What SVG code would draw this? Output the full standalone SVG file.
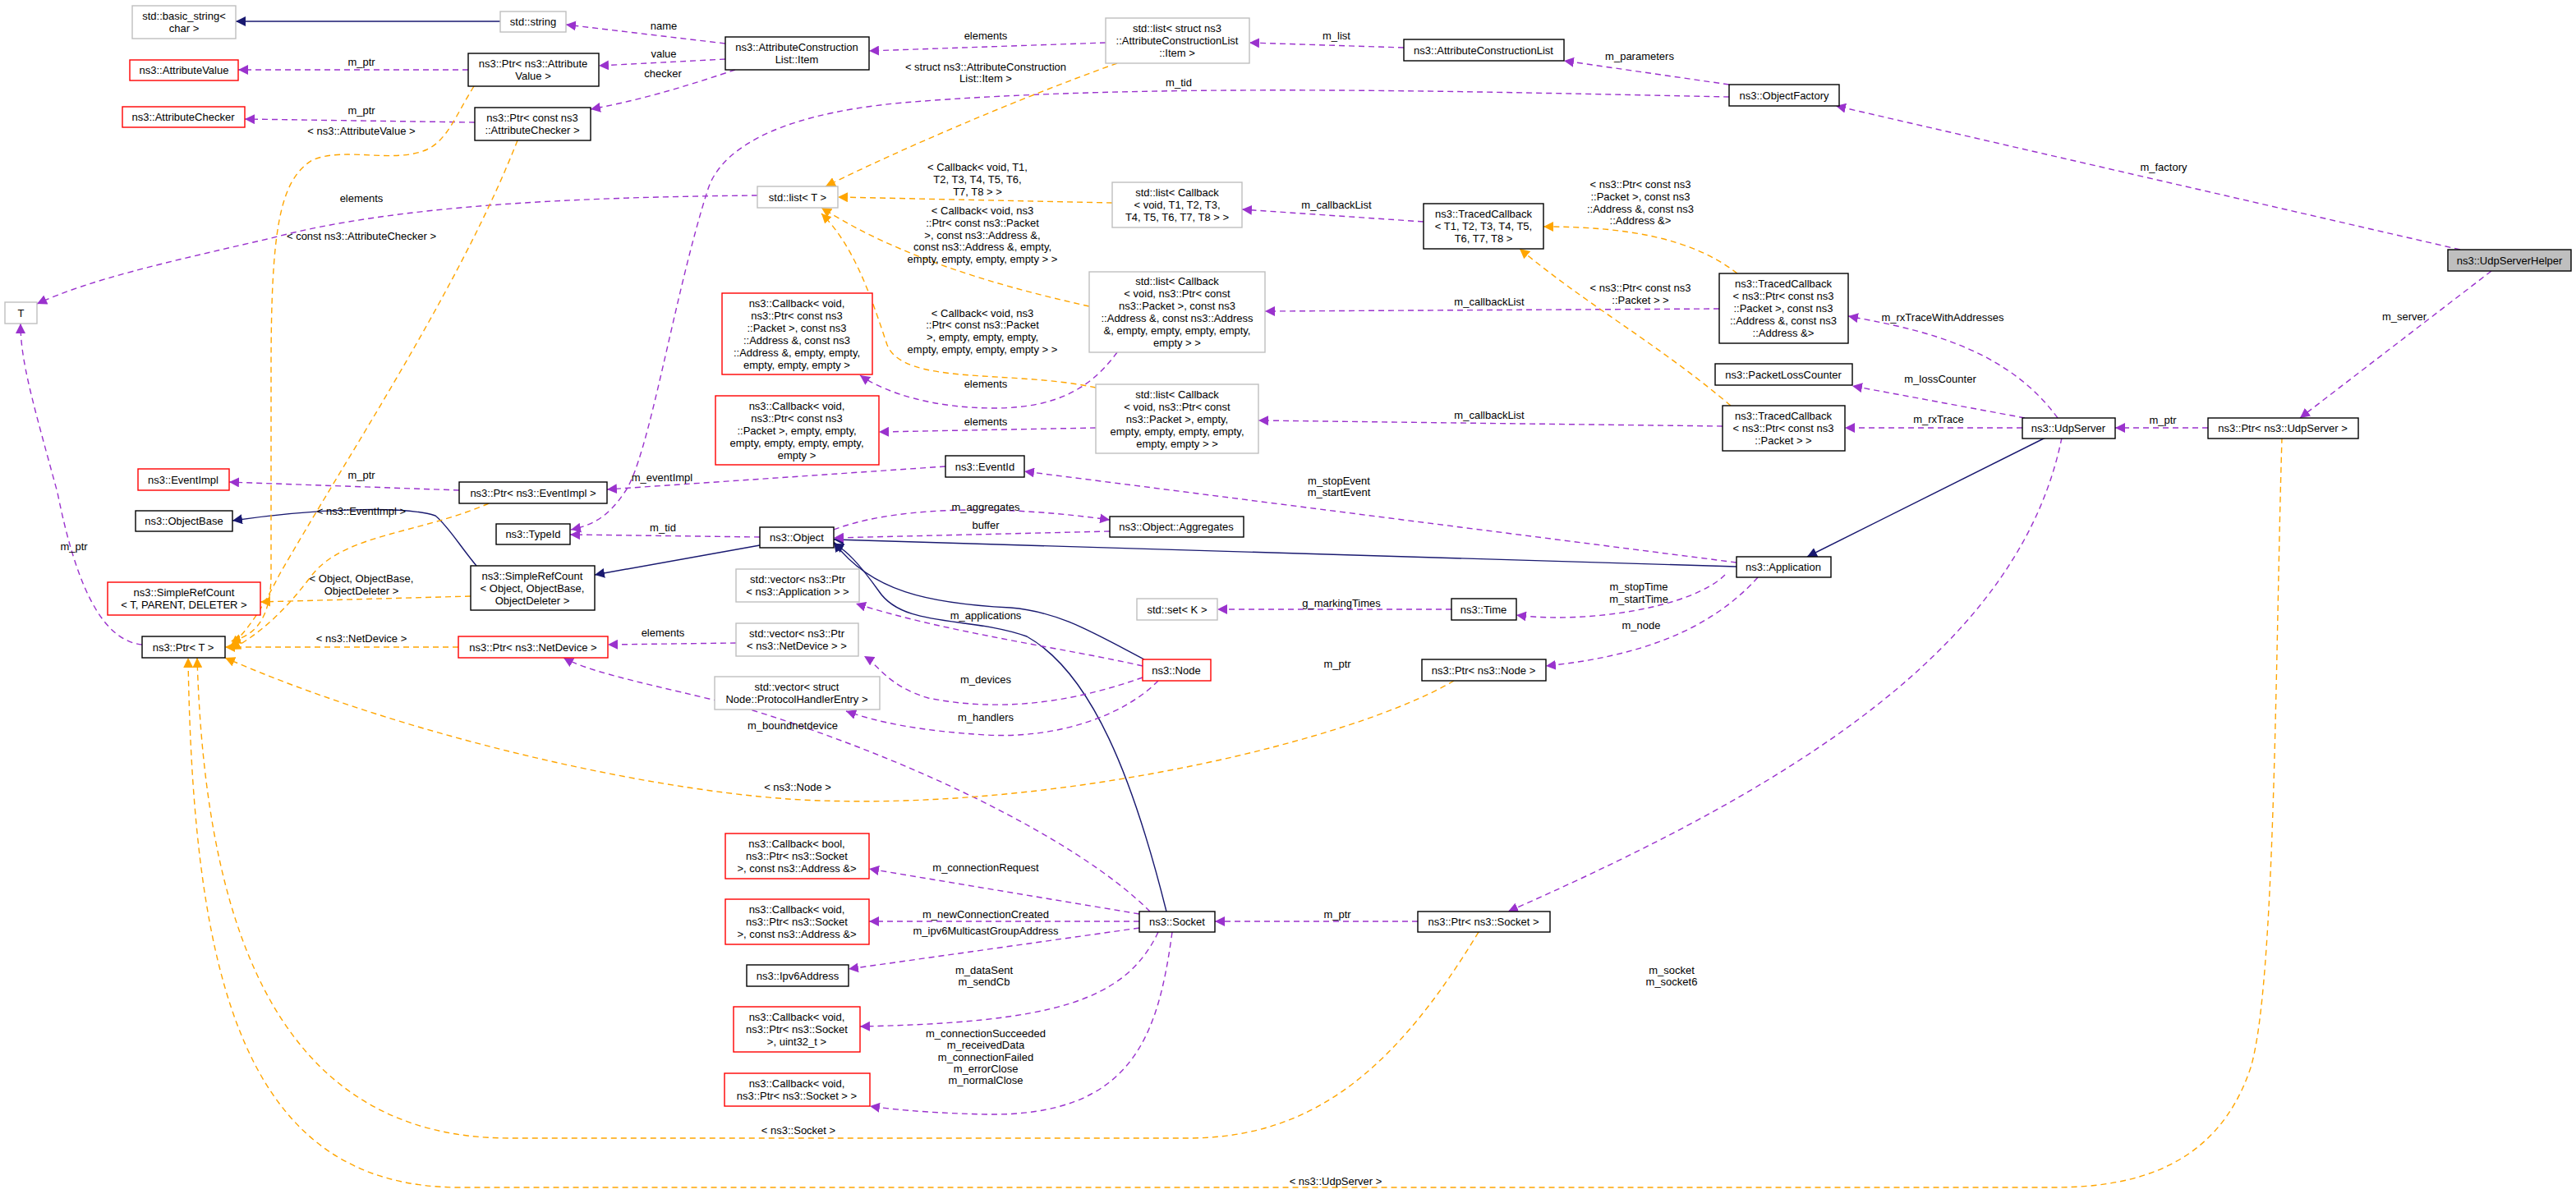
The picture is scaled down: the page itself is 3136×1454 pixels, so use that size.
<svg xmlns="http://www.w3.org/2000/svg" width="3136" height="1454" viewBox="0 0 3136 1454">
<style>
text{font-family:"Liberation Sans",Arial,sans-serif;font-size:13px;fill:#000;text-anchor:middle}
.b{fill:#fff;stroke:#000;stroke-width:1.4}
.g{fill:#fff;stroke:#bfbfbf;stroke-width:1.4}
.r{fill:#fff;stroke:#ff0000;stroke-width:1.4}
.h{fill:#bfbfbf;stroke:#000;stroke-width:1.4}
.p{fill:none;stroke:#9a32cd;stroke-width:1.4;stroke-dasharray:7,5;marker-end:url(#mp)}
.o{fill:none;stroke:#ffa500;stroke-width:1.4;stroke-dasharray:7,5;marker-end:url(#mo)}
.n{fill:none;stroke:#191970;stroke-width:1.4;marker-end:url(#mn)}
</style>
<defs>
<marker id="mp" viewBox="0 0 10 10" refX="10" refY="5" markerWidth="12" markerHeight="12" markerUnits="userSpaceOnUse" orient="auto"><path d="M0,0L10,5L0,10z" fill="#9a32cd"/></marker>
<marker id="mo" viewBox="0 0 10 10" refX="10" refY="5" markerWidth="12" markerHeight="12" markerUnits="userSpaceOnUse" orient="auto"><path d="M0,0L10,5L0,10z" fill="#ffa500"/></marker>
<marker id="mn" viewBox="0 0 10 10" refX="10" refY="5" markerWidth="12" markerHeight="12" markerUnits="userSpaceOnUse" orient="auto"><path d="M0,0L10,5L0,10z" fill="#191970"/></marker>
</defs>
<rect width="3136" height="1454" fill="#fff"/>
<g id="edges">
<path class="n" d="M609,26L287,26"/>
<path class="n" d="M580,689C560,665 545,640 530,628C490,615 380,620 283,634"/>
<path class="n" d="M925,664L724,700"/>
<path class="n" d="M2114,690L1015,657"/>
<path class="n" d="M2490,533L2200,678"/>
<path class="n" d="M1393,803C1330,770 1290,745 1230,740C1130,735 1060,720 1015,660"/>
<path class="n" d="M1420,1110C1380,950 1330,820 1250,775C1180,750 1100,765 1070,720C1045,685 1030,670 1015,662"/>
<path class="p" d="M883,53L689,30"/>
<path class="p" d="M883,72L729,80"/>
<path class="p" d="M895,85C850,100 790,120 719,133"/>
<path class="p" d="M570,85L290,85"/>
<path class="p" d="M578,149L298,145"/>
<path class="p" d="M1346,52L1058,62"/>
<path class="p" d="M1709,58L1521,52"/>
<path class="p" d="M2105,103L1904,74"/>
<path class="p" d="M2105,118C1800,112 1400,100 1100,125C930,140 875,190 862,230C820,360 790,560 760,600C740,630 720,640 695,645"/>
<path class="p" d="M922,238C700,240 480,250 330,290C200,320 110,340 45,370"/>
<path class="p" d="M173,785C120,780 90,700 70,600C40,490 25,440 25,394"/>
<path class="p" d="M1733,270L1512,255"/>
<path class="p" d="M2093,376L1540,379"/>
<path class="p" d="M2097,519L1532,512"/>
<path class="p" d="M1360,429C1330,470 1290,497 1210,497C1140,497 1080,480 1047,457"/>
<path class="p" d="M1334,521L1070,526"/>
<path class="p" d="M2505,509C2440,420 2330,400 2250,385"/>
<path class="p" d="M2465,509L2255,470"/>
<path class="p" d="M2462,521L2246,521"/>
<path class="p" d="M2688,521L2575,521"/>
<path class="p" d="M3033,330L2800,509"/>
<path class="p" d="M2995,304L2235,129"/>
<path class="p" d="M559,597L279,587"/>
<path class="p" d="M1151,568L739,596"/>
<path class="p" d="M925,654L694,651"/>
<path class="p" d="M2114,685L1247,574"/>
<path class="p" d="M1015,645C1080,620 1200,612 1351,633"/>
<path class="p" d="M1351,647L1015,655"/>
<path class="p" d="M1767,742L1482,742"/>
<path class="p" d="M2100,700C2060,740 1930,760 1846,749"/>
<path class="p" d="M2140,703C2080,770 1990,800 1882,811"/>
<path class="p" d="M1391,811C1300,790 1150,770 1042,735"/>
<path class="p" d="M1391,825C1320,850 1230,870 1130,850C1080,835 1070,810 1052,799"/>
<path class="p" d="M1410,829C1370,870 1290,900 1200,895C1120,890 1070,880 1030,866"/>
<path class="p" d="M896,783L740,785"/>
<path class="p" d="M1400,1110C1310,1020 1100,920 900,860C800,835 720,820 686,801"/>
<path class="p" d="M1387,1113L1058,1058"/>
<path class="p" d="M1387,1122L1058,1122"/>
<path class="p" d="M1387,1130L1033,1180"/>
<path class="p" d="M1410,1135C1370,1220 1280,1245 1047,1250"/>
<path class="p" d="M1427,1135C1410,1260 1380,1360 1200,1357C1120,1355 1080,1350 1059,1347"/>
<path class="p" d="M1726,1122L1479,1122"/>
<path class="p" d="M2510,533C2460,780 2200,950 1836,1110"/>
<path class="o" d="M1360,77C1240,120 1100,180 1005,227"/>
<path class="o" d="M1354,247L1020,240"/>
<path class="o" d="M1326,373C1200,345 1090,310 1000,253"/>
<path class="o" d="M1334,472C1230,450 1100,470 1080,420C1060,360 1040,300 1000,260"/>
<path class="o" d="M2115,333C2060,290 1980,276 1879,276"/>
<path class="o" d="M2107,494C2020,420 1930,370 1850,303"/>
<path class="o" d="M577,105C555,140 545,170 520,182C480,200 420,178 380,195C340,220 330,280 330,450L330,700C330,760 305,775 281,781"/>
<path class="o" d="M630,171C560,350 420,560 340,700C320,740 300,770 281,786"/>
<path class="o" d="M595,613C510,650 420,650 380,700C350,740 320,770 281,791"/>
<path class="o" d="M573,726L317,733"/>
<path class="o" d="M558,788L274,788"/>
<path class="o" d="M1770,829C1650,900 1300,985 1000,975C820,970 500,900 274,801"/>
<path class="o" d="M1800,1135C1700,1300 1600,1386 1446,1386L620,1386C350,1386 250,1150 240,801"/>
<path class="o" d="M2778,533C2770,800 2770,1200 2740,1300C2700,1420 2600,1446 2500,1446L560,1446C300,1446 235,1200 229,801"/>
</g>
<g id="edge-labels">
<text x="808" y="36">name</text>
<text x="808" y="70">value</text>
<text x="807" y="94">checker</text>
<text x="440" y="80">m_ptr</text>
<text x="440" y="139">m_ptr</text>
<text x="1200" y="48">elements</text>
<text x="1627" y="48">m_list</text>
<text x="1996" y="73">m_parameters</text>
<text x="1435" y="105">m_tid</text>
<text x="440" y="246">elements</text>
<text x="90" y="670">m_ptr</text>
<text x="1627" y="254">m_callbackList</text>
<text x="1813" y="372">m_callbackList</text>
<text x="1813" y="510">m_callbackList</text>
<text x="1200" y="472">elements</text>
<text x="1200" y="518">elements</text>
<text x="2365" y="391">m_rxTraceWithAddresses</text>
<text x="2362" y="466">m_lossCounter</text>
<text x="2360" y="515">m_rxTrace</text>
<text x="2633" y="516">m_ptr</text>
<text x="2927" y="390">m_server</text>
<text x="2634" y="208">m_factory</text>
<text x="440" y="583">m_ptr</text>
<text x="806" y="586">m_eventImpl</text>
<text x="807" y="647">m_tid</text>
<text x="1630" y="590">m_stopEvent</text>
<text x="1630" y="604">m_startEvent</text>
<text x="1200" y="622">m_aggregates</text>
<text x="1200" y="644">buffer</text>
<text x="1633" y="739">g_markingTimes</text>
<text x="1995" y="719">m_stopTime</text>
<text x="1995" y="734">m_startTime</text>
<text x="1998" y="766">m_node</text>
<text x="1628" y="813">m_ptr</text>
<text x="1200" y="754">m_applications</text>
<text x="1200" y="832">m_devices</text>
<text x="1200" y="878">m_handlers</text>
<text x="807" y="775">elements</text>
<text x="965" y="888">m_boundnetdevice</text>
<text x="1200" y="1061">m_connectionRequest</text>
<text x="1200" y="1118">m_newConnectionCreated</text>
<text x="1200" y="1138">m_ipv6MulticastGroupAddress</text>
<text x="1198" y="1186">m_dataSent</text>
<text x="1198" y="1200">m_sendCb</text>
<text x="1200" y="1263">m_connectionSucceeded</text>
<text x="1200" y="1277">m_receivedData</text>
<text x="1200" y="1292">m_connectionFailed</text>
<text x="1200" y="1306">m_errorClose</text>
<text x="1200" y="1320">m_normalClose</text>
<text x="1628" y="1118">m_ptr</text>
<text x="2035" y="1186">m_socket</text>
<text x="2035" y="1200">m_socket6</text>
<text x="1200" y="86">&lt; struct ns3::AttributeConstruction</text>
<text x="1200" y="100">List::Item &gt;</text>
<text x="1190" y="208">&lt; Callback&lt; void, T1,</text>
<text x="1190" y="223">T2, T3, T4, T5, T6,</text>
<text x="1190" y="238">T7, T8 &gt; &gt;</text>
<text x="1196" y="261">&lt; Callback&lt; void, ns3</text>
<text x="1196" y="276">::Ptr&lt; const ns3::Packet</text>
<text x="1196" y="291">&gt;, const ns3::Address &amp;,</text>
<text x="1196" y="305">const ns3::Address &amp;, empty,</text>
<text x="1196" y="320">empty, empty, empty, empty &gt; &gt;</text>
<text x="1196" y="386">&lt; Callback&lt; void, ns3</text>
<text x="1196" y="400">::Ptr&lt; const ns3::Packet</text>
<text x="1196" y="415">&gt;, empty, empty, empty,</text>
<text x="1196" y="430">empty, empty, empty, empty &gt; &gt;</text>
<text x="1997" y="229">&lt; ns3::Ptr&lt; const ns3</text>
<text x="1997" y="244">::Packet &gt;, const ns3</text>
<text x="1997" y="259">::Address &amp;, const ns3</text>
<text x="1997" y="273">::Address &amp;&gt;</text>
<text x="1997" y="355">&lt; ns3::Ptr&lt; const ns3</text>
<text x="1997" y="370">::Packet &gt; &gt;</text>
<text x="440" y="164">&lt; ns3::AttributeValue &gt;</text>
<text x="440" y="292">&lt; const ns3::AttributeChecker &gt;</text>
<text x="440" y="627">&lt; ns3::EventImpl &gt;</text>
<text x="440" y="709">&lt; Object, ObjectBase,</text>
<text x="440" y="724">ObjectDeleter &gt;</text>
<text x="440" y="782">&lt; ns3::NetDevice &gt;</text>
<text x="971" y="963">&lt; ns3::Node &gt;</text>
<text x="972" y="1381">&lt; ns3::Socket &gt;</text>
<text x="1626" y="1443">&lt; ns3::UdpServer &gt;</text>
</g>
<g id="n_basic"><rect class="g" x="161" y="7" width="126" height="40"/><text x="224" y="24">std::basic_string&lt;</text><text x="224" y="39">char &gt;</text></g>
<g id="n_string"><rect class="g" x="609" y="14" width="80" height="25"/><text x="649" y="31">std::string</text></g>
<g id="n_item"><rect class="b" x="883" y="45" width="175" height="40"/><text x="970" y="62">ns3::AttributeConstruction</text><text x="970" y="77">List::Item</text></g>
<g id="n_attrval"><rect class="r" x="158" y="73" width="132" height="25"/><text x="224" y="90">ns3::AttributeValue</text></g>
<g id="n_ptrattrval"><rect class="b" x="570" y="65" width="159" height="40"/><text x="649" y="82">ns3::Ptr&lt; ns3::Attribute</text><text x="649" y="97">Value &gt;</text></g>
<g id="n_attrchk"><rect class="r" x="149" y="130" width="149" height="25"/><text x="223" y="147">ns3::AttributeChecker</text></g>
<g id="n_ptrchk"><rect class="b" x="578" y="131" width="141" height="40"/><text x="648" y="148">ns3::Ptr&lt; const ns3</text><text x="648" y="163">::AttributeChecker &gt;</text></g>
<g id="n_listT"><rect class="g" x="922" y="227" width="98" height="26"/><text x="971" y="244.5">std::list&lt; T &gt;</text></g>
<g id="n_T"><rect class="g" x="6" y="368" width="39" height="26"/><text x="25.5" y="385.5">T</text></g>
<g id="n_listitem"><rect class="g" x="1346" y="22" width="175" height="55"/><text x="1433" y="39">std::list&lt; struct ns3</text><text x="1433" y="54">::AttributeConstructionList</text><text x="1433" y="69">::Item &gt;</text></g>
<g id="n_acl"><rect class="b" x="1709" y="48" width="195" height="26"/><text x="1806" y="65.5">ns3::AttributeConstructionList</text></g>
<g id="n_of"><rect class="b" x="2105" y="103" width="134" height="26"/><text x="2172" y="120.5">ns3::ObjectFactory</text></g>
<g id="n_helper"><rect class="h" x="2980" y="304" width="150" height="26"/><text x="3055" y="321.5">ns3::UdpServerHelper</text></g>
<g id="n_listcbT"><rect class="g" x="1354" y="222" width="158" height="55"/><text x="1433" y="239">std::list&lt; Callback</text><text x="1433" y="254">&lt; void, T1, T2, T3,</text><text x="1433" y="269">T4, T5, T6, T7, T8 &gt; &gt;</text></g>
<g id="n_tcbT"><rect class="b" x="1733" y="248" width="146" height="55"/><text x="1806" y="265">ns3::TracedCallback</text><text x="1806" y="280">&lt; T1, T2, T3, T4, T5,</text><text x="1806" y="295">T6, T7, T8 &gt;</text></g>
<g id="n_listcbA"><rect class="g" x="1326" y="331" width="214" height="98"/><text x="1433" y="347">std::list&lt; Callback</text><text x="1433" y="362">&lt; void, ns3::Ptr&lt; const</text><text x="1433" y="377">ns3::Packet &gt;, const ns3</text><text x="1433" y="392">::Address &amp;, const ns3::Address</text><text x="1433" y="407">&amp;, empty, empty, empty, empty,</text><text x="1433" y="422">empty &gt; &gt;</text></g>
<g id="n_cb1"><rect class="r" x="879" y="357" width="183" height="99"/><text x="970" y="373.5">ns3::Callback&lt; void,</text><text x="970" y="388.5">ns3::Ptr&lt; const ns3</text><text x="970" y="403.5">::Packet &gt;, const ns3</text><text x="970" y="418.5">::Address &amp;, const ns3</text><text x="970" y="433.5">::Address &amp;, empty, empty,</text><text x="970" y="448.5">empty, empty, empty &gt;</text></g>
<g id="n_cb2"><rect class="r" x="871" y="482" width="199" height="84"/><text x="970" y="498.5">ns3::Callback&lt; void,</text><text x="970" y="513.5">ns3::Ptr&lt; const ns3</text><text x="970" y="528.5">::Packet &gt;, empty, empty,</text><text x="970" y="543.5">empty, empty, empty, empty,</text><text x="970" y="558.5">empty &gt;</text></g>
<g id="n_listcbE"><rect class="g" x="1334" y="468" width="198" height="84"/><text x="1433" y="484.5">std::list&lt; Callback</text><text x="1433" y="499.5">&lt; void, ns3::Ptr&lt; const</text><text x="1433" y="514.5">ns3::Packet &gt;, empty,</text><text x="1433" y="529.5">empty, empty, empty, empty,</text><text x="1433" y="544.5">empty, empty &gt; &gt;</text></g>
<g id="n_tcbA"><rect class="b" x="2093" y="333" width="157" height="85"/><text x="2171" y="350">ns3::TracedCallback</text><text x="2171" y="365">&lt; ns3::Ptr&lt; const ns3</text><text x="2171" y="380">::Packet &gt;, const ns3</text><text x="2171" y="395">::Address &amp;, const ns3</text><text x="2171" y="410">::Address &amp;&gt;</text></g>
<g id="n_plc"><rect class="b" x="2088" y="443" width="167" height="26"/><text x="2171" y="460.5">ns3::PacketLossCounter</text></g>
<g id="n_tcbP"><rect class="b" x="2097" y="494" width="149" height="55"/><text x="2171" y="511">ns3::TracedCallback</text><text x="2171" y="526">&lt; ns3::Ptr&lt; const ns3</text><text x="2171" y="541">::Packet &gt; &gt;</text></g>
<g id="n_udps"><rect class="b" x="2462" y="509" width="113" height="25"/><text x="2518" y="526">ns3::UdpServer</text></g>
<g id="n_ptrudps"><rect class="b" x="2688" y="509" width="183" height="25"/><text x="2779" y="526">ns3::Ptr&lt; ns3::UdpServer &gt;</text></g>
<g id="n_app"><rect class="b" x="2114" y="678" width="115" height="25"/><text x="2171" y="695">ns3::Application</text></g>
<g id="n_eventimpl"><rect class="r" x="168" y="571" width="111" height="26"/><text x="223" y="588.5">ns3::EventImpl</text></g>
<g id="n_ptrevent"><rect class="b" x="559" y="587" width="180" height="26"/><text x="649" y="604.5">ns3::Ptr&lt; ns3::EventImpl &gt;</text></g>
<g id="n_objbase"><rect class="b" x="165" y="622" width="118" height="25"/><text x="224" y="639">ns3::ObjectBase</text></g>
<g id="n_typeid"><rect class="b" x="604" y="638" width="90" height="25"/><text x="649" y="655">ns3::TypeId</text></g>
<g id="n_object"><rect class="b" x="925" y="642" width="90" height="25"/><text x="970" y="659">ns3::Object</text></g>
<g id="n_srcT"><rect class="r" x="131" y="709" width="186" height="40"/><text x="224" y="726">ns3::SimpleRefCount</text><text x="224" y="741">&lt; T, PARENT, DELETER &gt;</text></g>
<g id="n_srcO"><rect class="b" x="573" y="689" width="151" height="54"/><text x="648" y="705.5">ns3::SimpleRefCount</text><text x="648" y="720.5">&lt; Object, ObjectBase,</text><text x="648" y="735.5">ObjectDeleter &gt;</text></g>
<g id="n_ptrT"><rect class="b" x="173" y="775" width="101" height="26"/><text x="223" y="792.5">ns3::Ptr&lt; T &gt;</text></g>
<g id="n_ptrnd"><rect class="r" x="558" y="775" width="182" height="26"/><text x="649" y="792.5">ns3::Ptr&lt; ns3::NetDevice &gt;</text></g>
<g id="n_eventid"><rect class="b" x="1151" y="555" width="96" height="26"/><text x="1199" y="572.5">ns3::EventId</text></g>
<g id="n_aggr"><rect class="b" x="1351" y="629" width="163" height="25"/><text x="1432" y="646">ns3::Object::Aggregates</text></g>
<g id="n_setK"><rect class="g" x="1384" y="729" width="98" height="26"/><text x="1433" y="746.5">std::set&lt; K &gt;</text></g>
<g id="n_time"><rect class="b" x="1767" y="729" width="79" height="26"/><text x="1806" y="746.5">ns3::Time</text></g>
<g id="n_node"><rect class="r" x="1391" y="803" width="83" height="26"/><text x="1432" y="820.5">ns3::Node</text></g>
<g id="n_ptrnode"><rect class="b" x="1731" y="803" width="151" height="26"/><text x="1806" y="820.5">ns3::Ptr&lt; ns3::Node &gt;</text></g>
<g id="n_vecapp"><rect class="g" x="896" y="693" width="150" height="40"/><text x="971" y="710">std::vector&lt; ns3::Ptr</text><text x="971" y="725">&lt; ns3::Application &gt; &gt;</text></g>
<g id="n_vecnd"><rect class="g" x="896" y="759" width="149" height="40"/><text x="970" y="776">std::vector&lt; ns3::Ptr</text><text x="970" y="791">&lt; ns3::NetDevice &gt; &gt;</text></g>
<g id="n_vecph"><rect class="g" x="870" y="824" width="201" height="40"/><text x="970" y="841">std::vector&lt; struct</text><text x="970" y="856">Node::ProtocolHandlerEntry &gt;</text></g>
<g id="n_cbbool"><rect class="r" x="883" y="1015" width="175" height="55"/><text x="970" y="1032">ns3::Callback&lt; bool,</text><text x="970" y="1047">ns3::Ptr&lt; ns3::Socket</text><text x="970" y="1062">&gt;, const ns3::Address &amp;&gt;</text></g>
<g id="n_cbnew"><rect class="r" x="883" y="1095" width="175" height="55"/><text x="970" y="1112">ns3::Callback&lt; void,</text><text x="970" y="1127">ns3::Ptr&lt; ns3::Socket</text><text x="970" y="1142">&gt;, const ns3::Address &amp;&gt;</text></g>
<g id="n_ipv6"><rect class="b" x="909" y="1175" width="124" height="26"/><text x="971" y="1192.5">ns3::Ipv6Address</text></g>
<g id="n_cbsent"><rect class="r" x="893" y="1226" width="154" height="55"/><text x="970" y="1243">ns3::Callback&lt; void,</text><text x="970" y="1258">ns3::Ptr&lt; ns3::Socket</text><text x="970" y="1273">&gt;, uint32_t &gt;</text></g>
<g id="n_cbsock"><rect class="r" x="882" y="1307" width="177" height="40"/><text x="970" y="1324">ns3::Callback&lt; void,</text><text x="970" y="1339">ns3::Ptr&lt; ns3::Socket &gt; &gt;</text></g>
<g id="n_socket"><rect class="b" x="1387" y="1110" width="92" height="25"/><text x="1433" y="1127">ns3::Socket</text></g>
<g id="n_ptrsock"><rect class="b" x="1726" y="1110" width="161" height="25"/><text x="1806" y="1127">ns3::Ptr&lt; ns3::Socket &gt;</text></g>
</svg>
